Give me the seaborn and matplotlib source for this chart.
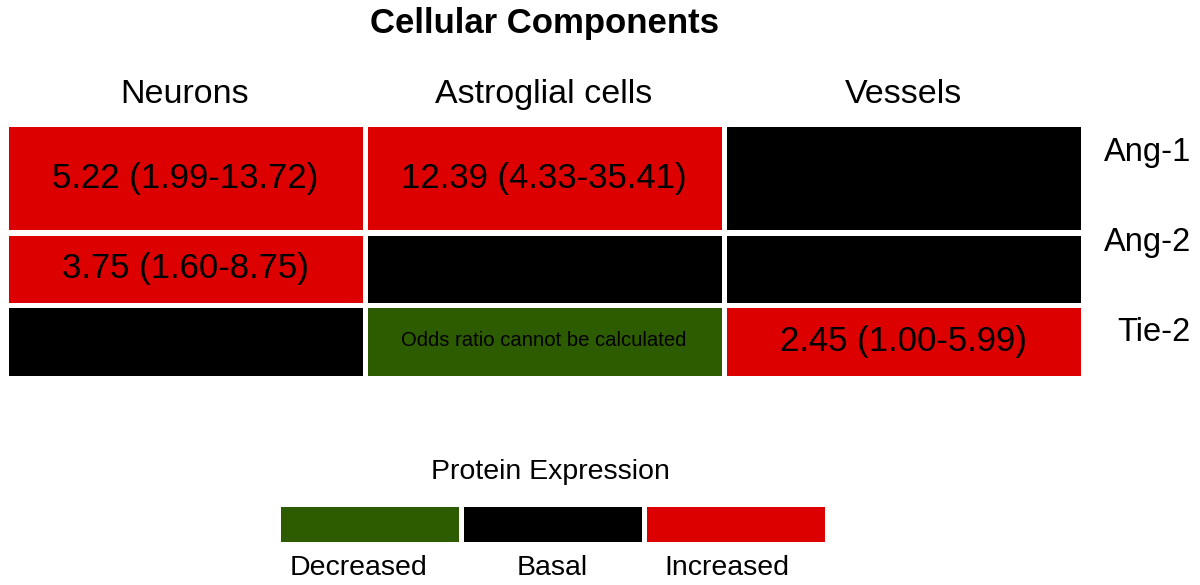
import numpy as np
import matplotlib
matplotlib.use('Agg')
import matplotlib.pyplot as plt
import matplotlib.transforms as mtransforms
import seaborn as sns
from matplotlib.colors import ListedColormap

# 数据：-1 = 下降, 0 = 基础, 1 = 升高
components = ['Neurons', 'Astroglial cells', 'Vessels']
proteins = ['Ang-1', 'Ang-2', 'Tie-2']
expression = [
    [1, 1, 0],
    [1, 0, 0],
    [0, -1, 1],
]
odds_labels = [
    ['5.22 (1.99-13.72)', '12.39 (4.33-35.41)', ''],
    ['3.75 (1.60-8.75)', '', ''],
    ['', 'Odds ratio cannot be calculated', '2.45 (1.00-5.99)'],
]
legend_levels = [-1, 0, 1]
legend_labels = ['Decreased', 'Basal', 'Increased']

W, H = 1200, 585


def box(x0, y0, x1, y1):
    """像素坐标 -> figure 坐标"""
    return [x0 / W, 1 - y1 / H, (x1 - x0) / W, (y1 - y0) / H]


sns.set_theme(style='white')
plt.rcParams['font.family'] = ['Liberation Sans', 'DejaVu Sans']
plt.rcParams['text.color'] = 'black'
plt.rcParams['xtick.color'] = 'black'
plt.rcParams['xtick.labelcolor'] = 'black'

cmap = ListedColormap(['#2D5B00', '#000000', '#DD0000'])
fig = plt.figure(figsize=(12, 5.85), dpi=100)

# 三行高度不同，每行单独一个 axes
row_edges = [124.5, 232.5, 304.5, 377.5]
for i, prot in enumerate(proteins):
    ax = fig.add_axes(box(5.5, row_edges[i], 1082.5, row_edges[i + 1]))
    sns.heatmap([expression[i]], ax=ax, cmap=cmap, vmin=-1.5, vmax=1.5, cbar=False,
                linewidths=3.6, linecolor='white',
                annot=np.array([odds_labels[i]]), fmt='',
                annot_kws={'color': 'black', 'fontsize': 25},
                xticklabels=components if i == 0 else False, yticklabels=False)
    for t in ax.texts:
        if t.get_text().startswith('Odds'):
            t.set_fontsize(14.6)
    if i == 0:
        ax.xaxis.tick_top()
        ax.tick_params(axis='x', length=0, pad=10.5, labelsize=24.5, rotation=0)
    fig.text(1191 / W, 1 - [161, 251, 341][i] / H, prot, ha='right', va='baseline', fontsize=23.5)

fig.text(544 / W, 1 - 33 / H, 'Cellular Components', ha='center', va='baseline',
         fontsize=25, fontweight='bold')

# 图例
lax = fig.add_axes(box(277.5, 504, 826.5, 543.5))
sns.heatmap([legend_levels], ax=lax, cmap=cmap, vmin=-1.5, vmax=1.5, cbar=False,
            linewidths=3.6, linecolor='white', xticklabels=legend_labels, yticklabels=False)
lax.tick_params(axis='x', length=0, pad=8, labelsize=20.5, rotation=0)
# 原图两侧标签略微偏移
for lbl, dx in zip(lax.get_xticklabels(), [-10, 0, -8]):
    lbl.set_transform(lbl.get_transform() + mtransforms.ScaledTranslation(dx / 100, 0, fig.dpi_scale_trans))
fig.text(550 / W, 1 - 479 / H, 'Protein Expression', ha='center', va='baseline', fontsize=20.5)

fig.savefig('out.png', dpi=100)
